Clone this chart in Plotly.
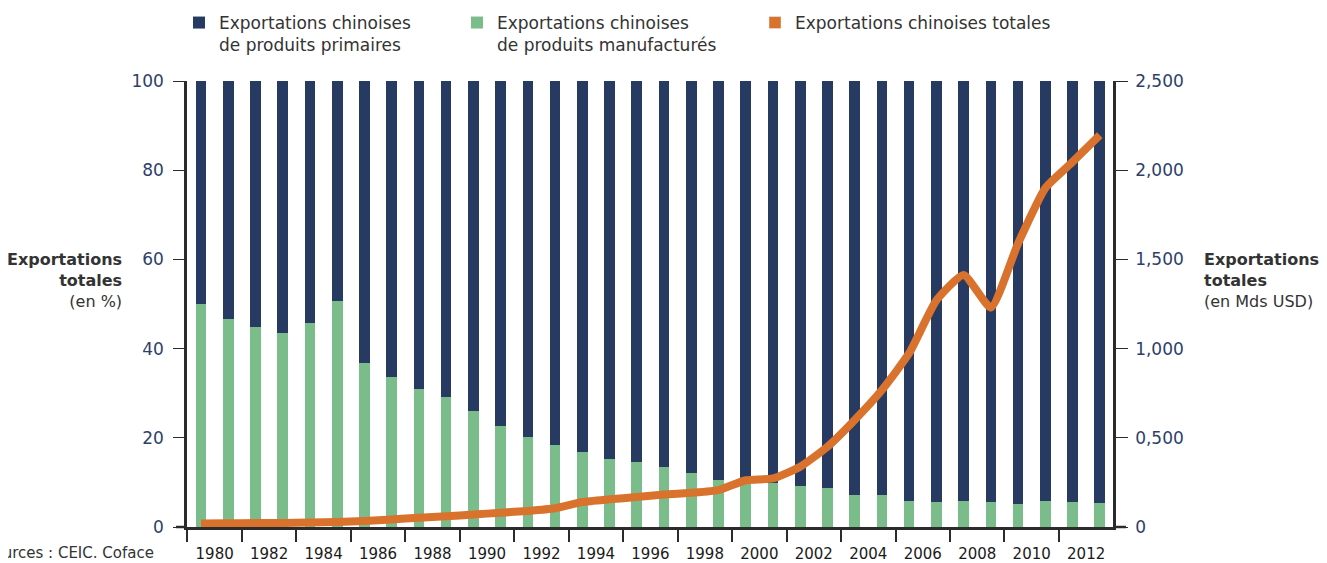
import plotly.graph_objects as go

years = list(range(1980, 2014))
manufactures = [50.0, 46.6, 44.9, 43.4, 45.7, 50.7, 36.8, 33.7, 30.9, 29.2,
                26.0, 22.7, 20.2, 18.3, 16.9, 15.2, 14.6, 13.4, 12.0, 10.5,
                10.2, 9.9, 9.2, 8.7, 7.2, 7.2, 5.8, 5.5, 5.8, 5.7,
                5.2, 5.8, 5.5, 5.3]
primaires = [round(100 - v, 1) for v in manufactures]
totales = [20, 21, 22, 23, 25, 28, 33, 42, 52, 60,
           70, 80, 90, 105, 140, 155, 168, 182, 192, 207,
           262, 272, 338, 450, 600, 768, 974, 1270, 1413, 1230,
           1590, 1900, 2046, 2197]

label_years = list(range(1980, 2013, 2))
right_tickvals = [0, 500, 1000, 1500, 2000, 2500]
right_ticktext = ["0", "0,500", "1,000", "1,500", "2,000", "2,500"]

NAVY = "#273a61"
GREEN = "#7bbd8a"
ORANGE = "#d9722c"
AXIS = "#2b2b2b"
TICKBLUE = "#2e3f6a"
FONT = "DejaVu Sans"

fig = go.Figure()
fig.add_trace(go.Bar(x=years, y=manufactures, marker=dict(color=GREEN, line=dict(width=0)),
                     width=0.39, name="Exportations chinoises<br>de produits manufacturés",
                     legend="legend2"))
fig.add_trace(go.Bar(x=years, y=primaires, marker=dict(color=NAVY, line=dict(width=0)),
                     width=0.39, name="Exportations chinoises<br>de produits primaires",
                     legend="legend"))
fig.add_trace(go.Scatter(x=years, y=totales, yaxis="y2", mode="lines",
                         line=dict(color=ORANGE, width=8, shape="spline", smoothing=0.5),
                         showlegend=False))
# legend entry for the total (square swatch as in the original)
fig.add_trace(go.Bar(x=[None], y=[None], marker=dict(color=ORANGE), name="Exportations chinoises totales",
                     legend="legend3", yaxis="y2"))

# page is offset by the default 8px body margin
OFF = 8
W, H = 1327 - OFF, 563 - OFF
PL, PR, PT, PB = 187, 1113, 81, 527   # plot area in page pixels
L, R, T, B = PL - OFF, W - (PR - OFF), PT - OFF, H - (PB - OFF)
pw = PR - PL
ph = PB - PT

def px(x):
    return (x - PL) / pw

def py(y):
    return (PB - y) / ph

legfont = dict(family=FONT, size=17, color="#333333")
leg_common = dict(orientation="v", xanchor="left", yanchor="top", font=legfont,
                  bgcolor="rgba(0,0,0,0)", valign="top", itemclick=False, itemdoubleclick=False,
                  tracegroupgap=0)

fig.update_layout(
    width=W, height=H,
    margin=dict(l=L, r=R, t=T, b=B, autoexpand=False),
    paper_bgcolor="white", plot_bgcolor="white",
    barmode="stack", bargap=0,
    font=dict(family=FONT, size=16, color="#333333"),
    legend=dict(x=px(193 - 14), y=py(5), **leg_common),
    legend2=dict(x=px(471 - 14), y=py(5), **leg_common),
    legend3=dict(x=px(770 - 15), y=py(5), **leg_common),
    xaxis=dict(
        range=[1979.485, 2013.485],
        tickmode="array", tickvals=[y + 0.5 for y in label_years],
        ticktext=[str(y) for y in label_years], ticks="",
        tickfont=dict(family=FONT, size=15, color="#1a1a1a"),
        ticklabelstandoff=11,
        showline=True, linecolor=AXIS, linewidth=2.5,
        showgrid=False, zeroline=False,
        minor=dict(tick0=1979.5, dtick=2, ticks="outside", ticklen=12, tickwidth=1.5,
                   tickcolor=AXIS, showgrid=False),
    ),
    yaxis=dict(
        range=[0, 100], tickvals=[0, 20, 40, 60, 80, 100],
        ticks="outside", ticklen=11, tickwidth=1.2, tickcolor=AXIS,
        tickfont=dict(family=FONT, size=17, color=TICKBLUE),
        showline=True, linecolor=AXIS, linewidth=2.5,
        showgrid=False, zeroline=False, ticklabelstandoff=6,
    ),
    yaxis2=dict(
        range=[0, 2500], overlaying="y", side="right",
        tickmode="array", tickvals=right_tickvals, ticktext=right_ticktext,
        ticks="outside", ticklen=12, tickwidth=1.2, tickcolor=AXIS,
        tickfont=dict(family=FONT, size=17, color=TICKBLUE),
        showline=True, linecolor=AXIS, linewidth=2.5,
        showgrid=False, zeroline=False, ticklabelstandoff=4,
    ),
)

# axis titles
fig.add_annotation(x=px(124), y=py(280), xref="paper", yref="paper", xanchor="right", yanchor="middle",
                   align="right", showarrow=False,
                   text="<b>Exportations</b><br><b>totales</b><br>(en %)",
                   font=dict(family=FONT, size=16, color="#333333"))
fig.add_annotation(x=px(1202), y=py(280), xref="paper", yref="paper", xanchor="left", yanchor="middle",
                   align="left", showarrow=False,
                   text="<b>Exportations</b><br><b>totales</b><br>(en Mds USD)",
                   font=dict(family=FONT, size=16, color="#333333"))
# source
fig.add_annotation(x=px(156), y=py(553), xref="paper", yref="paper", xanchor="right", yanchor="middle",
                   showarrow=False, text="Sources : CEIC. Coface",
                   font=dict(family=FONT, size=15, color="#333333"))

# axis cross extensions
fig.add_shape(type="line", xref="paper", yref="paper", x0=px(176), x1=px(187), y0=0, y1=0,
              line=dict(color=AXIS, width=2.5))
fig.add_shape(type="line", xref="paper", yref="paper", x0=px(1113), x1=px(1126), y0=0, y1=0,
              line=dict(color=AXIS, width=2.5))

fig.write_html("out.html")
